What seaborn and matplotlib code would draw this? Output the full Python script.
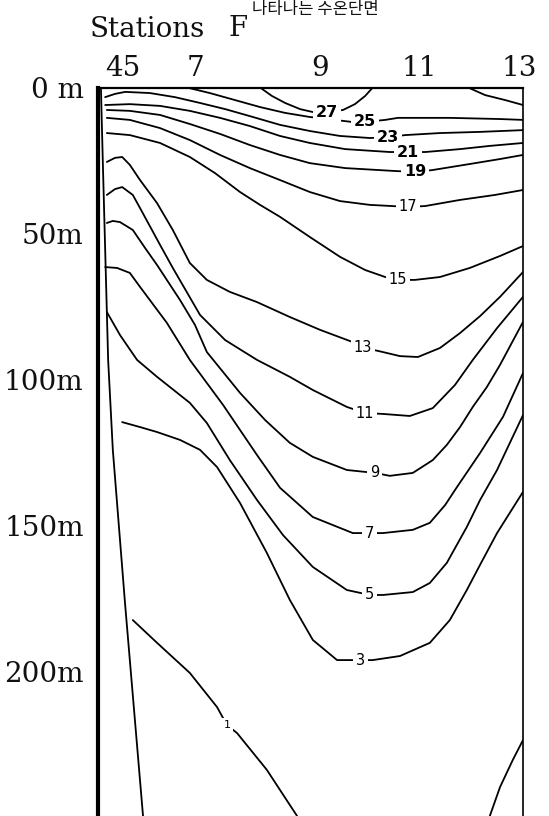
import numpy as np
import pandas as pd
import matplotlib
matplotlib.use("Agg")
import matplotlib.pyplot as plt
import seaborn as sns

# ---------------- data (distance along section 0-100, depth in m) ----------------
station_names = ["45", "7", "9", "11", "13"]
station_dist = [6.0, 23.1, 52.3, 75.6, 99.1]
depth_ticks = [0, 50, 100, 150, 200]
depth_labels = ["0 m", "50m", "100m", "150m", "200m"]

iso27a_x = [38.2, 41.0, 44.1, 47.6, 50.6, 53.9, 57.7, 60.5, 62.9, 64.7]
iso27a_d = [0.0, 2.9, 5.3, 7.4, 8.4, 8.4, 7.7, 5.7, 2.9, 0.0]
iso27b_x = [87.1, 91.1, 95.8, 100.0]
iso27b_d = [0.0, 2.6, 4.3, 6.0]
iso25_x = [21.0, 26.4, 32.3, 38.2, 44.1, 49.9, 55.8, 59.8, 62.9, 67.6, 70.6, 82.8, 94.6, 100.0]
iso25_d = [0.0, 1.9, 4.3, 6.7, 8.7, 10.1, 11.1, 11.8, 11.8, 11.1, 10.4, 10.4, 10.8, 11.1]
iso23_x = [1.8, 4.1, 6.5, 12.3, 18.2, 24.1, 30.0, 35.8, 42.9, 49.9, 57.0, 64.0, 68.3, 72.3, 80.5, 89.9, 100.0]
iso23_d = [3.3, 2.2, 1.5, 1.9, 3.3, 5.3, 7.4, 9.8, 12.8, 14.9, 16.6, 17.3, 17.0, 16.3, 15.6, 15.2, 14.6]
iso21_x = [1.8, 7.6, 14.7, 21.7, 28.8, 35.8, 42.9, 49.9, 58.2, 68.7, 73.0, 77.0, 85.2, 92.2, 100.0]
iso21_d = [6.0, 5.7, 6.3, 8.0, 10.4, 13.2, 16.6, 19.0, 21.1, 22.1, 22.1, 22.1, 21.1, 20.0, 19.0]
iso19_x = [2.2, 7.6, 14.7, 21.7, 28.8, 35.8, 42.9, 49.9, 58.2, 69.9, 74.6, 78.6, 87.5, 94.6, 100.0]
iso19_d = [7.7, 8.0, 9.4, 12.5, 15.9, 19.7, 23.1, 25.9, 27.6, 28.6, 28.9, 28.3, 26.2, 24.5, 23.1]
iso17_x = [2.2, 7.6, 14.7, 21.7, 28.8, 35.8, 42.9, 49.9, 57.0, 64.0, 69.2, 73.0, 77.0, 85.2, 93.4, 100.0]
iso17_d = [10.4, 11.1, 13.9, 18.0, 23.1, 27.6, 31.7, 35.8, 38.9, 40.2, 40.6, 40.9, 40.6, 38.5, 36.8, 35.1]
iso15_x = [2.2, 7.6, 14.7, 21.7, 27.6, 33.5, 38.2, 42.9, 49.9, 57.0, 62.9, 67.6, 70.6, 74.6, 80.5, 87.5, 94.6, 100.0]
iso15_d = [15.6, 16.3, 19.0, 23.8, 29.3, 35.8, 40.2, 44.3, 51.2, 58.0, 62.5, 64.9, 65.9, 65.9, 64.9, 61.8, 57.7, 54.3]
iso13_x = [2.2, 4.1, 5.8, 7.6, 10.0, 14.0, 17.7, 21.7, 25.7, 31.1, 37.5, 45.2, 52.3, 60.0, 62.4, 65.9, 71.1, 75.3, 80.5, 85.2, 89.9, 94.6, 100.0]
iso13_d = [25.5, 24.1, 23.8, 26.5, 31.7, 39.6, 48.8, 60.1, 65.9, 70.0, 73.5, 78.6, 83.0, 87.2, 89.2, 90.2, 92.0, 92.3, 89.2, 84.1, 78.3, 71.7, 63.2]
iso11_x = [2.2, 4.1, 5.8, 8.3, 10.0, 14.7, 17.7, 24.1, 30.0, 37.5, 45.2, 50.6, 58.6, 62.9, 67.1, 73.4, 78.8, 84.0, 88.2, 93.9, 100.0]
iso11_d = [36.8, 34.8, 34.1, 36.8, 41.3, 53.9, 61.8, 77.9, 86.5, 93.3, 99.1, 103.6, 109.4, 111.5, 111.8, 112.5, 109.8, 101.9, 93.3, 82.4, 71.7]
iso9_x = [2.2, 3.6, 5.3, 8.3, 11.2, 14.0, 19.4, 22.9, 25.7, 33.5, 39.4, 45.2, 50.6, 58.6, 65.2, 68.7, 74.1, 78.8, 82.1, 85.2, 88.2, 91.5, 94.6, 100.0]
iso9_d = [46.4, 45.7, 46.1, 48.8, 55.0, 60.8, 72.8, 81.3, 90.6, 104.6, 113.9, 121.7, 126.5, 131.0, 132.0, 133.0, 132.0, 127.6, 122.4, 116.3, 109.4, 102.6, 95.0, 80.3]
iso7_x = [1.8, 4.6, 7.6, 10.0, 16.3, 21.7, 29.5, 37.5, 42.9, 50.6, 60.0, 64.0, 67.1, 74.1, 78.1, 81.7, 84.5, 89.9, 95.3, 100.0]
iso7_d = [61.5, 61.8, 63.5, 68.3, 80.6, 93.3, 108.7, 125.9, 137.1, 147.1, 152.6, 152.6, 152.6, 151.5, 149.1, 143.0, 136.8, 125.2, 112.8, 97.8]
iso5_x = [2.2, 5.3, 9.3, 14.0, 21.7, 25.7, 31.1, 37.5, 43.6, 50.6, 58.6, 64.0, 67.1, 74.1, 78.1, 82.1, 86.8, 89.9, 93.9, 100.0]
iso5_d = [76.9, 84.8, 93.3, 99.1, 108.0, 114.9, 127.6, 141.3, 153.3, 164.2, 172.1, 173.8, 173.8, 172.8, 169.7, 162.8, 150.5, 141.3, 131.0, 112.2]
iso3_x = [5.8, 10.0, 14.0, 19.4, 24.1, 28.1, 33.5, 39.8, 45.2, 50.6, 56.3, 61.7, 64.7, 71.1, 78.1, 82.8, 86.8, 89.9, 93.9, 100.0]
iso3_d = [114.6, 116.3, 118.0, 120.7, 124.1, 130.0, 142.3, 159.4, 175.5, 189.2, 196.1, 196.1, 196.1, 194.7, 190.2, 182.4, 172.1, 163.5, 152.6, 138.5]
iso1a_x = [8.3, 14.0, 21.7, 28.1, 30.4, 32.8, 39.8, 46.9]
iso1a_d = [182.4, 190.2, 200.5, 212.2, 218.3, 221.1, 233.7, 249.5]
iso1b_x = [100.0, 97.6, 94.6, 92.2]
iso1b_d = [223.5, 230.3, 239.6, 249.5]
edge_x = [0.8, 1.3, 2.5, 3.6, 6.5, 10.7]
edge_d = [0.0, 28.3, 93.3, 124.1, 177.2, 249.5]

isotherm_names = ["27a", "27b", "25", "23", "21", "19", "17", "15", "13", "11", "9", "7", "5", "3", "1a", "1b", "edge"]
isotherm_x = [iso27a_x, iso27b_x, iso25_x, iso23_x, iso21_x, iso19_x, iso17_x, iso15_x, iso13_x,
              iso11_x, iso9_x, iso7_x, iso5_x, iso3_x, iso1a_x, iso1b_x, edge_x]
isotherm_d = [iso27a_d, iso27b_d, iso25_d, iso23_d, iso21_d, iso19_d, iso17_d, iso15_d, iso13_d,
              iso11_d, iso9_d, iso7_d, iso5_d, iso3_d, iso1a_d, iso1b_d, edge_d]

label_text = ["27", "25", "23", "21", "19", "17", "15", "13", "11", "9", "7", "5", "3", "1"]
label_line = ["27a", "25", "23", "21", "19", "17", "15", "13", "11", "9", "7", "5", "3", "1a"]
label_dist = [53.9, 62.9, 68.3, 73.0, 74.6, 73.0, 70.6, 62.4, 62.9, 65.2, 64.0, 64.0, 61.7, 30.4]

# ---------------- build frame ----------------
rows = []
for name, xs, ds in zip(isotherm_names, isotherm_x, isotherm_d):
    for i, (xv, dv) in enumerate(zip(xs, ds)):
        rows.append({"line": name, "order": i, "distance": xv, "depth": dv})
df = pd.DataFrame(rows)

sns.set_theme(style="white")
plt.rcParams["font.family"] = ["DejaVu Sans"]

W, H = 549, 816
fig = plt.figure(figsize=(W / 100, H / 100), dpi=100)
left, right, top = 97.5, 523.0, 87.5
ax = fig.add_axes([left / W, 0.0, (right - left) / W, (H - top) / H])

sns.lineplot(data=df, x="distance", y="depth", units="line", estimator=None, sort=False,
             color="black", linewidth=1.3, ax=ax, legend=False)
for ln in ax.get_lines():
    ln.set_solid_joinstyle("round")
    ln.set_solid_capstyle("round")

ax.set_xlim(0, 100)
ax.set_ylim(249.5, 0)

# contour labels
line_lookup = dict(zip(isotherm_names, zip(isotherm_x, isotherm_d)))
for txt, ln, lx in zip(label_text, label_line, label_dist):
    xs, ds = line_lookup[ln]
    ly = float(np.interp(lx, xs, ds))
    bold = int(txt) >= 19
    fs = 11.5 if bold else 10.5
    if txt == "1":
        fs = 8
    ax.text(lx, ly, txt, ha="center", va="center", fontsize=fs,
            fontweight="bold" if bold else "normal", color="black", zorder=5,
            bbox=dict(boxstyle="square,pad=0.2", fc="white", ec="none"))

# axes styling
serif = ["DejaVu Serif"]
ax.set_xlabel("")
ax.set_ylabel("")
ax.set_yticks(depth_ticks)
ax.set_yticklabels(depth_labels, fontfamily=serif, fontsize=20)
ax.tick_params(axis="y", length=0, pad=10, colors="black")
ax.xaxis.tick_top()
ax.set_xticks(station_dist)
ax.set_xticklabels(station_names, fontfamily=serif, fontsize=20)
ax.tick_params(axis="x", length=0, pad=4, colors="black")
for lab in ax.get_yticklabels() + ax.get_xticklabels():
    lab.set_color("#111111")

for side, lw in [("left", 3.0), ("top", 1.6), ("right", 1.2)]:
    ax.spines[side].set_visible(True)
    ax.spines[side].set_color("black")
    ax.spines[side].set_linewidth(lw)
ax.spines["bottom"].set_visible(False)
ax.grid(False)

fig.text(90 / W, 1 - 37 / H, "Stations", fontfamily=serif, fontsize=20, color="#111111",
         ha="left", va="baseline")
fig.text(229 / W, 1 - 36 / H, "F", fontfamily=serif, fontsize=20, color="#111111",
         ha="left", va="baseline")
fig.text(252 / W, 1 - 1 / H, "나타나는 수온단면", fontfamily=["Noto Sans CJK KR", "DejaVu Sans"],
         fontsize=12, color="#111111", ha="left", va="top")

fig.savefig("out.png", dpi=100, facecolor="white")
